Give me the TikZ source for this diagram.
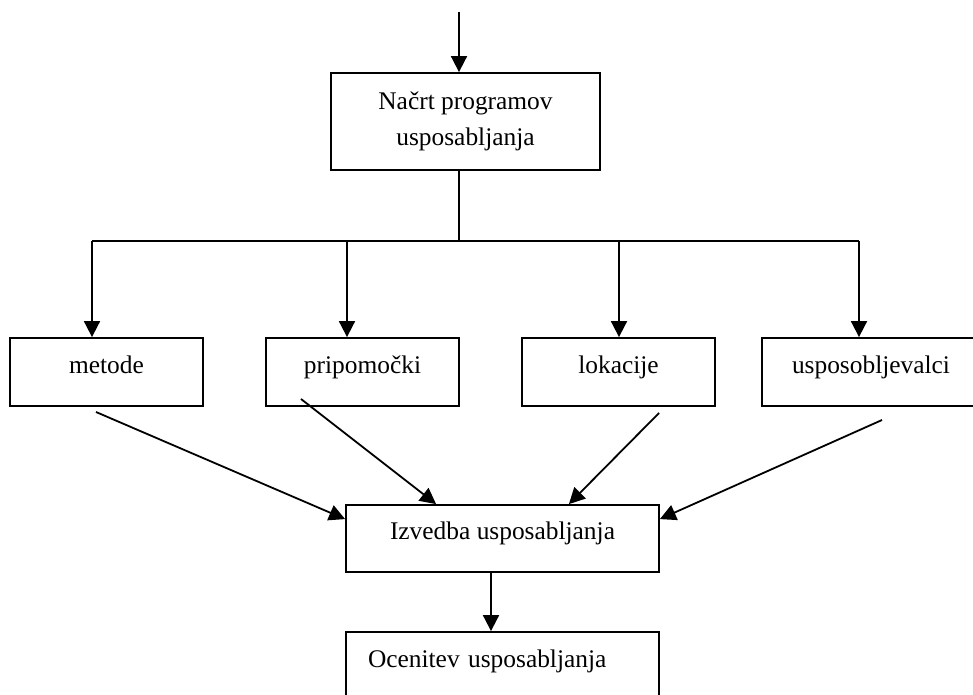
\documentclass[tikz,border=0pt]{standalone}
\usepackage{fontspec}
\setmainfont{Liberation Serif}
\usetikzlibrary{arrows.meta}
\begin{document}
\begin{tikzpicture}[x=0.5pt, y=-0.5pt,
  box/.style={draw, line width=0.9pt, minimum height=34pt, text height=8pt, text depth=7pt, inner sep=0pt, font=\fontsize{12.7}{18}\selectfont},
  arr/.style={-{Triangle[length=8pt, width=8pt]}, line width=0.9pt},
  ln/.style={line width=0.9pt}]
\useasboundingbox (0,0) rectangle (973,695);

\node[box, minimum width=134.5pt, minimum height=48.5pt, text height=, text depth=, align=center] (Nacrt) at (465.5,121.5) {Načrt programov\\usposabljanja};

\node[box, minimum width=96.5pt] (Metode) at (106.5,372) {metode};
\node[box, minimum width=96.5pt] (Pripomocki) at (362.5,372) {pripomočki};
\node[box, minimum width=96.5pt] (Lokacije) at (618.5,372) {lokacije};
\node[box, minimum width=109pt] (Usposobljevalci) at (871,372) {usposobljevalci};

\node[box, minimum width=156.5pt, minimum height=33.5pt] (Izvedba) at (502.5,538.5) {Izvedba usposabljanja};
\node[box, minimum width=156.5pt, text width=134.5pt, inner xsep=11pt, align=left] (Ocenitev) at (502.5,666) {Ocenitev usposabljanja};

% top input and split
\coordinate (Vhod) at (459,12);
\coordinate (Razcep) at (459,241);
\coordinate (Bus 1) at (92,241);
\coordinate (Bus 2) at (347,241);
\coordinate (Bus 3) at (619,241);
\coordinate (Bus 4) at (859,241);
\coordinate (Dol) at (491,600);

\draw[arr] (Vhod) -- (Vhod |- Nacrt.north);
\draw[ln] (Razcep |- Nacrt.south) -- (Razcep);
\draw[ln] (Bus 1) -- (Bus 4);
\draw[arr] (Bus 1) -- (Bus 1 |- Metode.north);
\draw[arr] (Bus 2) -- (Bus 2 |- Pripomocki.north);
\draw[arr] (Bus 3) -- (Bus 3 |- Lokacije.north);
\draw[arr] (Bus 4) -- (Bus 4 |- Usposobljevalci.north);

% free starts of the slanted arrows
\coordinate (Od metode) at (96,412);
\coordinate (Od pripomocki) at (301,399);
\coordinate (Od lokacije) at (659,413);
\coordinate (Od usposobljevalci) at (882,420);

\draw[arr] (Od metode) -- ([yshift=-7.5pt]Izvedba.north west);
\draw[arr] (Od pripomocki) -- ([xshift=45.5pt]Izvedba.north west);
\draw[arr] (Od lokacije) -- ([xshift=-45.5pt]Izvedba.north east);
\draw[arr] (Od usposobljevalci) -- ([yshift=-7.5pt]Izvedba.north east);

\draw[arr] (Izvedba.south -| Dol) -- (Ocenitev.north -| Dol);
\end{tikzpicture}
\end{document}
